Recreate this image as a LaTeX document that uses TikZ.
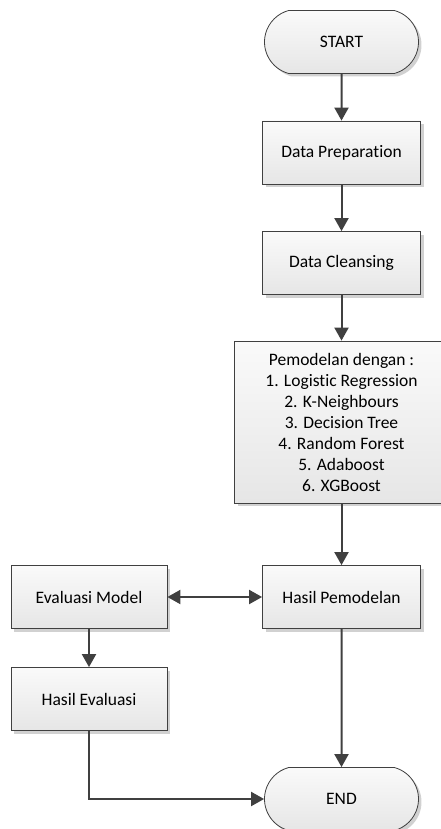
\documentclass[tikz,border=0pt]{standalone}
\usepackage{fontspec}
\setmainfont{Carlito}[Ligatures=NoCommon]
\usetikzlibrary{shapes.misc, arrows.meta, shadows}

\definecolor{edge}{HTML}{404040}
\definecolor{boxtop}{HTML}{FAFAFA}
\definecolor{boxbot}{HTML}{E6E6E6}

\tikzset{
  box/.style={
    draw=edge, line width=0.8pt,
    top color=boxtop, bottom color=boxbot,
    drop shadow={shadow xshift=3pt, shadow yshift=-3pt, fill=black!18, opacity=1},
    minimum width=158pt, minimum height=63pt, inner sep=2pt,
    align=center, font=\fontsize{17.5}{21}\selectfont
  },
  terminal/.style={
    box, rounded rectangle, rounded rectangle arc length=150
  },
  flow/.style={
    draw=edge, line width=2pt,
    -{Triangle[length=13pt, width=14pt]}
  },
  twoway/.style={
    flow, {Triangle[length=13pt, width=14pt]}-{Triangle[length=13pt, width=14pt]}
  }
}

\begin{document}
\begin{tikzpicture}[x=1pt, y=-1pt]
  \useasboundingbox (0,0) rectangle (441,829);
  \clip (0,0) rectangle (441,829);

  \node[terminal] (start) at (341.5,42) {START};
  \node[box] (prep)  at (341.5,152.5) {Data Preparation};
  \node[box] (clean) at (341.5,263) {Data Cleansing};
  \node[box, minimum width=214pt, minimum height=162pt] (model) at (341.5,422)
    {Pemodelan dengan :\\1. Logistic Regression\\2. K-Neighbours\\3. Decision Tree\\4. Random Forest\\5. Adaboost\\6. XGBoost};
  \node[box] (hasil) at (341.5,597) {Hasil Pemodelan};
  \node[box, minimum width=156pt] (eval) at (89,597) {Evaluasi Model};
  \node[box, minimum width=156pt] (heval) at (89,699) {Hasil Evaluasi};
  \node[terminal] (end) at (341.5,799) {END};

  \draw[flow] (start) -- (prep);
  \draw[flow] (prep) -- (clean);
  \draw[flow] (clean) -- (model);
  \draw[flow] (model) -- (hasil);
  \draw[twoway] (eval) -- (hasil);
  \draw[flow] (eval) -- (heval);
  \draw[flow] (hasil) -- (end);
  \draw[flow] (heval.south) |- (end.west);
\end{tikzpicture}
\end{document}
